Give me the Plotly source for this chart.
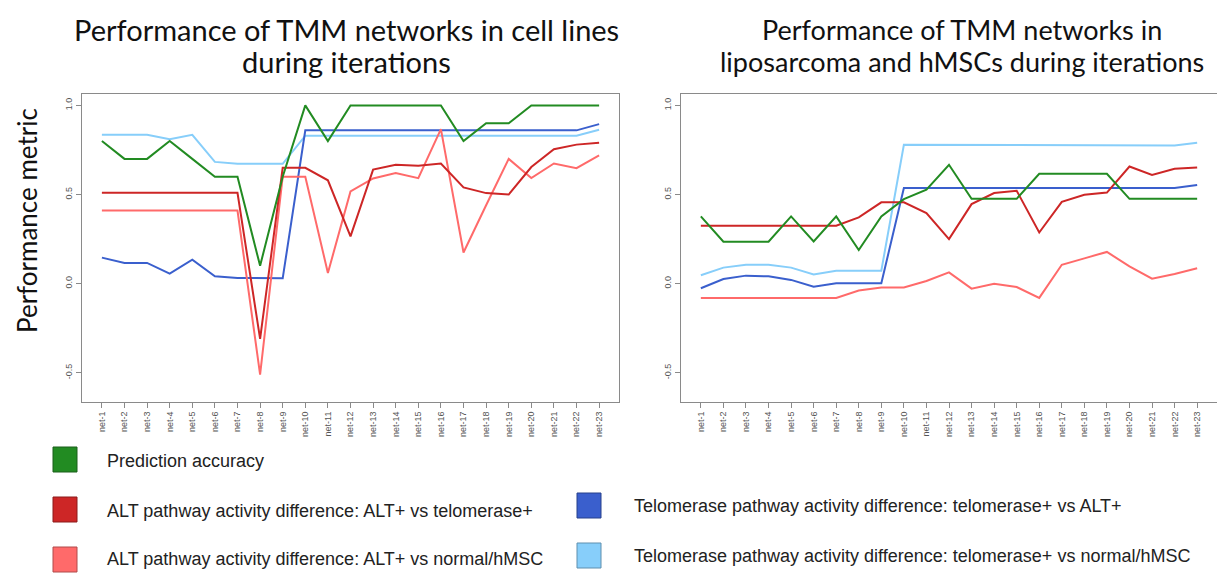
import plotly.graph_objects as go

W, H = 1217, 573

nets = [f"net-{i}" for i in range(1, 24)]
x_idx = list(range(1, 24))

series_names = [
    "Prediction accuracy",
    "ALT pathway activity difference: ALT+ vs telomerase+",
    "ALT pathway activity difference: ALT+ vs normal/hMSC",
    "Telomerase pathway activity difference: telomerase+ vs ALT+",
    "Telomerase pathway activity difference: telomerase+ vs normal/hMSC",
]
colors = ["#228B22", "#CD2626", "#FF6A6A", "#3A5FCD", "#87CEFA"]
border_colors = ["#1a5e1a", "#8b1a1a", "#b04a4a", "#27408b", "#5f8fae"]

# Left panel: cell lines
cell_accuracy = [0.80, 0.70, 0.70, 0.80, 0.70, 0.60, 0.60, 0.10, 0.60, 1.00, 0.80, 1.00,
                 1.00, 1.00, 1.00, 1.00, 0.80, 0.90, 0.90, 1.00, 1.00, 1.00, 1.00]
cell_alt_vs_tel = [0.51, 0.51, 0.51, 0.51, 0.51, 0.51, 0.51, -0.31, 0.65, 0.65, 0.58, 0.265,
                   0.64, 0.667, 0.661, 0.674, 0.54, 0.508, 0.50, 0.654, 0.754, 0.78, 0.79]
cell_alt_vs_norm = [0.41, 0.41, 0.41, 0.41, 0.41, 0.41, 0.41, -0.51, 0.60, 0.60, 0.06, 0.517,
                    0.59, 0.62, 0.592, 0.867, 0.175, 0.44, 0.70, 0.592, 0.674, 0.648, 0.72]
cell_tel_vs_alt = [0.146, 0.116, 0.116, 0.056, 0.134, 0.041, 0.032, 0.03, 0.03, 0.86, 0.86, 0.86,
                   0.86, 0.86, 0.86, 0.86, 0.86, 0.86, 0.86, 0.86, 0.86, 0.86, 0.895]
cell_tel_vs_norm = [0.835, 0.835, 0.835, 0.81, 0.835, 0.683, 0.672, 0.672, 0.672, 0.83, 0.83, 0.83,
                    0.83, 0.83, 0.83, 0.83, 0.83, 0.83, 0.83, 0.83, 0.83, 0.83, 0.863]

# Right panel: liposarcoma and hMSCs
lipo_accuracy = [0.377, 0.235, 0.235, 0.235, 0.377, 0.237, 0.377, 0.189, 0.377, 0.474, 0.527, 0.667,
                 0.476, 0.476, 0.476, 0.616, 0.616, 0.616, 0.616, 0.476, 0.476, 0.476, 0.476]
lipo_alt_vs_tel = [0.325, 0.325, 0.325, 0.325, 0.325, 0.325, 0.325, 0.372, 0.456, 0.456, 0.396, 0.25,
                   0.446, 0.508, 0.521, 0.287, 0.459, 0.499, 0.511, 0.657, 0.61, 0.644, 0.652]
lipo_alt_vs_norm = [-0.08, -0.08, -0.08, -0.08, -0.08, -0.08, -0.08, -0.039, -0.022, -0.022, 0.015, 0.063,
                    -0.028, 0.0, -0.019, -0.08, 0.106, 0.142, 0.178, 0.097, 0.028, 0.054, 0.086]
lipo_tel_vs_alt = [-0.026, 0.026, 0.045, 0.041, 0.021, -0.017, 0.002, 0.002, 0.002, 0.536, 0.536, 0.536,
                   0.536, 0.536, 0.536, 0.536, 0.536, 0.536, 0.536, 0.536, 0.536, 0.536, 0.553]
lipo_tel_vs_norm = [0.047, 0.09, 0.106, 0.106, 0.09, 0.052, 0.073, 0.073, 0.073, 0.779, 0.779, 0.779,
                    0.779, 0.775, 0.775, 0.775, 0.775, 0.775, 0.775, 0.775, 0.775, 0.775, 0.79]

y_ticks = [-0.5, 0.0, 0.5, 1.0]
y_tick_text = ["-0.5", "0.0", "0.5", "1.0"]

title_left = ["Performance of TMM networks in cell lines", "during iterations"]
title_right = ["Performance of TMM networks in", "liposarcoma and hMSCs during iterations"]
y_title = "Performance metric"

fig = go.Figure()

left_series = [cell_accuracy, cell_alt_vs_tel, cell_alt_vs_norm, cell_tel_vs_alt, cell_tel_vs_norm]
right_series = [lipo_accuracy, lipo_alt_vs_tel, lipo_alt_vs_norm, lipo_tel_vs_alt, lipo_tel_vs_norm]

draw_order = [4, 3, 2, 1, 0]
for i in draw_order:
    fig.add_trace(go.Scatter(x=x_idx, y=left_series[i], mode="lines", xaxis="x", yaxis="y",
                             line=dict(color=colors[i], width=2), showlegend=False,
                             name=series_names[i]))
for i in draw_order:
    fig.add_trace(go.Scatter(x=x_idx, y=right_series[i], mode="lines", xaxis="x2", yaxis="y2",
                             line=dict(color=colors[i], width=2), showlegend=False,
                             name=series_names[i]))

def px_x(p):
    return p / W

def px_y(p):
    return 1 - p / H

ydom = [px_y(402), px_y(94)]
tickfont = dict(family="Liberation Sans, Arial, sans-serif", size=9, color="#555555")
axis_common = dict(showgrid=False, zeroline=False, showline=True, mirror=True,
                   linecolor="#8a8a8a", linewidth=1, ticks="outside", ticklen=5,
                   tickcolor="#8a8a8a", tickfont=tickfont)

xr = [1 - 0.88, 23 + 0.88]
yr = [-0.664, 1.064]

fig.update_layout(
    width=W, height=H,
    margin=dict(l=0, r=0, t=0, b=0),
    paper_bgcolor="white", plot_bgcolor="white",
    xaxis=dict(domain=[px_x(82), px_x(619)], range=xr, tickvals=x_idx, ticktext=nets,
               tickangle=-90, anchor="y", **axis_common),
    yaxis=dict(domain=ydom, range=yr, tickvals=y_ticks, ticktext=y_tick_text,
               tickangle=-90, anchor="x", **axis_common),
    xaxis2=dict(domain=[px_x(681), 1.0], range=xr, tickvals=x_idx, ticktext=nets,
                tickangle=-90, anchor="y2", **axis_common),
    yaxis2=dict(domain=ydom, range=yr, tickvals=y_ticks, ticktext=y_tick_text,
                tickangle=-90, anchor="x2", **axis_common),
)

title_font_left = dict(family="Lato, Open Sans, sans-serif", size=29, color="#111111")
title_font_right = dict(family="Lato, Open Sans, sans-serif", size=27, color="#111111")
annotations = []
for k, line in enumerate(title_left):
    annotations.append(dict(text=line, x=px_x(346), y=px_y(30 + 32 * k), xref="paper", yref="paper",
                            showarrow=False, xanchor="center", yanchor="middle", font=title_font_left))
for k, line in enumerate(title_right):
    annotations.append(dict(text=line, x=px_x(962), y=px_y(30 + 32 * k), xref="paper", yref="paper",
                            showarrow=False, xanchor="center", yanchor="middle", font=title_font_right))
annotations.append(dict(text=y_title, x=px_x(27), y=px_y(221), xref="paper", yref="paper",
                        showarrow=False, textangle=-90, xanchor="center", yanchor="middle",
                        font=dict(family="Lato, Open Sans, sans-serif", size=26, color="#111111")))

legend_font = dict(family="Liberation Sans Narrow, Arial Narrow, Liberation Sans, sans-serif",
                   size=18, color="#222222")
legend_pos = [(53, 447, 105, 461), (53, 497, 105, 511), (53, 547, 105, 559),
              (577, 493, 632, 506), (577, 543, 632, 556)]
shapes = []
for i, (lx, ty, tx, tyc) in enumerate(legend_pos):
    shapes.append(dict(type="rect", xref="paper", yref="paper",
                       x0=px_x(lx), x1=px_x(lx + 24), y0=px_y(ty + 25), y1=px_y(ty),
                       fillcolor=colors[i], line=dict(color=border_colors[i], width=1)))
    annotations.append(dict(text=series_names[i], x=px_x(tx), y=px_y(tyc), xref="paper", yref="paper",
                            showarrow=False, xanchor="left", yanchor="middle", font=legend_font))

fig.update_layout(annotations=annotations, shapes=shapes)

fig.write_html("out.html")
